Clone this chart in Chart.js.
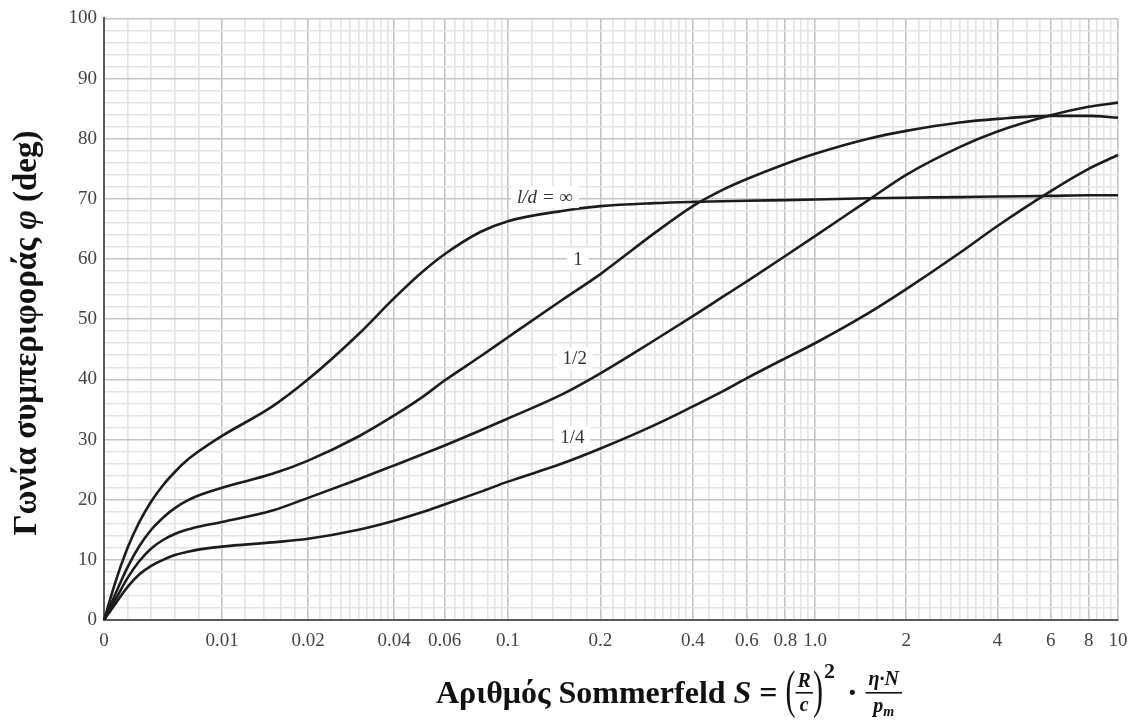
<!DOCTYPE html>
<html>
<head>
<meta charset="utf-8">
<script src="https://cdn.jsdelivr.net/npm/chart.js@4.4.1/dist/chart.umd.min.js"></script>
<style>
  html, body { margin: 0; padding: 0; background: #fff; }
  #wrap { width: 1141px; height: 726px; }
</style>
</head>
<body>
<div id="wrap"><canvas id="chart" width="1141" height="726"></canvas></div>
<script>
// Sommerfeld number S (shared x values for all curves)
const sValues = [0, 0.001, 0.002, 0.003, 0.004, 0.005, 0.006, 0.007, 0.008, 0.01, 0.015, 0.02, 0.03, 0.04, 0.05, 0.06, 0.08, 0.1, 0.15, 0.2, 0.3, 0.4, 0.5, 0.6, 0.8, 1, 1.5, 2, 3, 4, 6, 8, 10];

// Attitude angle phi (deg) for each l/d
const phiInfinite = [0, 6.5, 12, 16.3, 19.7, 22.4, 24.6, 26.5, 28, 30.6, 35.5, 40, 47.5, 53.5, 57.8, 60.8, 64.5, 66.3, 68, 68.8, 69.3, 69.5, 69.6, 69.7, 69.8, 69.9, 70.1, 70.2, 70.3, 70.4, 70.5, 70.6, 70.6];
const phiOne      = [0, 4.5, 8.8, 12.3, 15, 17, 18.6, 19.8, 20.7, 22, 24.3, 26.5, 30.5, 34, 37, 39.8, 43.8, 47, 53.2, 57.5, 64.3, 68.8, 71.5, 73.3, 75.8, 77.5, 80, 81.3, 82.7, 83.3, 83.8, 83.8, 83.5];
const phiHalf     = [0, 3.5, 7, 9.8, 11.9, 13.3, 14.3, 15, 15.5, 16.3, 18.2, 20.3, 23.4, 25.7, 27.5, 29, 31.5, 33.5, 37.5, 41, 46.5, 50.5, 53.7, 56.3, 60.5, 63.8, 69.8, 74, 78.6, 81.2, 83.9, 85.3, 86];
const phiQuarter  = [0, 2.8, 5.5, 7.6, 9, 10, 10.8, 11.3, 11.7, 12.2, 12.9, 13.5, 15, 16.5, 17.9, 19.2, 21.3, 23, 26, 28.5, 32.4, 35.5, 38, 40.2, 43.5, 46, 51, 55, 61, 65.5, 71.3, 75, 77.3];

// x axis ticks
const xMajorTicks = [0, 0.01, 0.02, 0.04, 0.06, 0.1, 0.2, 0.4, 0.6, 0.8, 1, 2, 4, 6, 8, 10];
const xTickLabels = ['0', '0.01', '0.02', '0.04', '0.06', '0.1', '0.2', '0.4', '0.6', '0.8', '1.0', '2', '4', '6', '8', '10'];
const xMinorStart = [0.002, 0.004, 0.006, 0.008];
const minorMantissas = [1.2, 1.4, 1.6, 1.8, 2.2, 2.4, 2.6, 2.8, 3, 3.2, 3.4, 3.6, 3.8, 4.5, 5, 5.5, 6.5, 7, 7.5, 8.5, 9, 9.5];
const decades = [0.01, 0.1, 1];

// y axis ticks
const yMax = 100;
const yMajorStep = 10;
const yMinorStep = 2;

// curve labels (placed at S, phi)
const curveLabels = [
  { text: 'l/d = ∞', s: 0.132, phi: 70.3, italic: true },
  { text: '1', s: 0.169, phi: 60 },
  { text: '1/2', s: 0.165, phi: 43.5 },
  { text: '1/4', s: 0.162, phi: 30.4 }
];

// build the full x grid list
const xMinorTicks = xMinorStart.slice();
decades.forEach(d => minorMantissas.forEach(m => xMinorTicks.push(+(d * m).toPrecision(6))));
const xGridValues = xMajorTicks.concat(xMinorTicks).sort((a, b) => a - b);

function isXMajor(v) {
  return xMajorTicks.some(t => Math.abs(t - v) < 1e-9);
}

// Sommerfeld axis: linear from 0 to 0.01, then log per decade
const sAnchors = [0, 0.01, 0.1, 1, 10];
const sAnchorFrac = [0, 0.1164, 0.3984, 0.7012, 1];

class SommerfeldScale extends Chart.LinearScale {
  determineDataLimits() {
    this.min = 0;
    this.max = 10;
  }
  buildTicks() {
    this.start = this.min;
    this.end = this.max;
    return xGridValues.map(v => ({ value: v }));
  }
  toDecimal(v) {
    if (v <= sAnchors[1]) return (v / sAnchors[1]) * sAnchorFrac[1];
    for (let i = 1; i < sAnchors.length - 1; i++) {
      if (v <= sAnchors[i + 1] || i === sAnchors.length - 2) {
        const t = Math.log10(v / sAnchors[i]) / Math.log10(sAnchors[i + 1] / sAnchors[i]);
        return sAnchorFrac[i] + t * (sAnchorFrac[i + 1] - sAnchorFrac[i]);
      }
    }
    return 1;
  }
  getPixelForValue(v) {
    return this.getPixelForDecimal(this.toDecimal(v));
  }
  getValueForPixel(p) {
    const d = this.getDecimalForPixel(p);
    if (d <= sAnchorFrac[1]) return d / sAnchorFrac[1] * sAnchors[1];
    for (let i = 1; i < sAnchors.length - 1; i++) {
      if (d <= sAnchorFrac[i + 1]) {
        const t = (d - sAnchorFrac[i]) / (sAnchorFrac[i + 1] - sAnchorFrac[i]);
        return sAnchors[i] * Math.pow(sAnchors[i + 1] / sAnchors[i], t);
      }
    }
    return 10;
  }
}
SommerfeldScale.id = 'sommerfeld';
SommerfeldScale.defaults = {};
Chart.register(SommerfeldScale);

const serif = '"Liberation Serif", "Times New Roman", serif';

function makeDataset(values) {
  return {
    data: sValues.map((s, i) => ({ x: s, y: values[i] })),
    borderColor: '#1c1c1c',
    borderWidth: 2.6,
    pointRadius: 0,
    fill: false,
    cubicInterpolationMode: 'monotone'
  };
}

// Draw curve labels and axis titles
const decorations = {
  id: 'decorations',
  afterDatasetsDraw(chart) {
    const ctx = chart.ctx;
    const xs = chart.scales.x;
    const ys = chart.scales.y;
    ctx.save();
    curveLabels.forEach(lb => {
      const px = xs.getPixelForValue(lb.s);
      const py = ys.getPixelForValue(lb.phi);
      ctx.font = (lb.italic ? 'italic ' : '') + '19px ' + serif;
      const w = ctx.measureText(lb.text).width;
      ctx.fillStyle = '#fff';
      ctx.fillRect(px - w / 2 - 6, py - 11, w + 12, 22);
      ctx.fillStyle = '#333';
      ctx.textAlign = 'center';
      ctx.textBaseline = 'middle';
      ctx.fillText(lb.text, px, py + 1);
    });
    ctx.restore();
  },
  afterDraw(chart) {
    const ctx = chart.ctx;
    ctx.save();
    ctx.fillStyle = '#111';
    ctx.strokeStyle = '#111';

    // y title (rotated)
    const yParts = [
      ['Γωνία συμπεριφοράς ', 'bold 33px ' + serif],
      ['φ', 'italic bold 33px ' + serif],
      [' (deg)', 'bold 33px ' + serif]
    ];
    let total = 0;
    yParts.forEach(p => { ctx.font = p[1]; total += ctx.measureText(p[0]).width; });
    ctx.translate(27, 333);
    ctx.rotate(-Math.PI / 2);
    ctx.textBaseline = 'middle';
    ctx.textAlign = 'left';
    let cx = -total / 2;
    yParts.forEach(p => { ctx.font = p[1]; ctx.fillText(p[0], cx, 0); cx += ctx.measureText(p[0]).width; });
    ctx.setTransform(1, 0, 0, 1, 0, 0);

    // x title with formula
    const base = 703;
    let x = 436;
    ctx.textBaseline = 'alphabetic';
    const put = (t, font, y) => {
      ctx.font = font;
      ctx.fillText(t, x, y === undefined ? base : y);
      const w = ctx.measureText(t).width;
      x += w;
      return w;
    };
    const big = 'bold 32px ' + serif;
    const bigIt = 'italic bold 32px ' + serif;
    const smallIt = 'italic bold 20px ' + serif;
    put('Αριθμός Sommerfeld ', big);
    put('S', bigIt);
    put(' = ', big);

    const paren = (ch) => {
      ctx.save();
      ctx.font = '30px ' + serif;
      const w = ctx.measureText(ch).width;
      ctx.translate(x, 693);
      ctx.scale(1, 1.75);
      ctx.textBaseline = 'middle';
      ctx.fillText(ch, 0, 0);
      ctx.restore();
      x += w;
    };
    paren('(');
    // R / c
    ctx.font = smallIt;
    const wR = ctx.measureText('R').width;
    const wc = ctx.measureText('c').width;
    const fw1 = Math.max(wR, wc) + 4;
    ctx.textAlign = 'center';
    ctx.fillText('R', x + fw1 / 2, 687);
    ctx.fillText('c', x + fw1 / 2, 711);
    ctx.fillRect(x, 692, fw1, 1.6);
    ctx.textAlign = 'left';
    x += fw1;
    paren(')');
    x += 1;
    put('2', 'bold 22px ' + serif, 678);
    x += 4;
    put(' · ', big);
    // eta N / p_m
    ctx.font = smallIt;
    const num = 'η·N';
    const wn = ctx.measureText(num).width;
    const wp = ctx.measureText('p').width;
    ctx.font = 'italic bold 14px ' + serif;
    const wm = ctx.measureText('m').width;
    const fw2 = Math.max(wn, wp + wm) + 6;
    ctx.font = smallIt;
    ctx.textAlign = 'center';
    ctx.fillText(num, x + fw2 / 2, 685);
    ctx.textAlign = 'left';
    const dx = x + (fw2 - wp - wm) / 2;
    ctx.fillText('p', dx, 712);
    ctx.font = 'italic bold 14px ' + serif;
    ctx.fillText('m', dx + wp, 716);
    ctx.fillRect(x, 692, fw2, 1.6);

    ctx.restore();
  }
};

const ctx = document.getElementById('chart').getContext('2d');
const chart = new Chart(ctx, {
  type: 'line',
  data: {
    datasets: [
      makeDataset(phiInfinite),
      makeDataset(phiOne),
      makeDataset(phiHalf),
      makeDataset(phiQuarter)
    ]
  },
  options: {
    responsive: false,
    animation: false,
    devicePixelRatio: 1,
    layout: { padding: { left: 0, top: 18, right: 23, bottom: 0 } },
    plugins: {
      legend: { display: false },
      tooltip: { enabled: false }
    },
    scales: {
      x: {
        type: 'sommerfeld',
        position: 'bottom',
        afterFit: (scale) => { scale.height = 106; },
        border: { display: true, color: '#5a5a5a', width: 2 },
        grid: {
          drawTicks: false,
          color: (c) => (c.tick && isXMajor(c.tick.value)) ? '#c4c4c4' : '#e4e4e4',
          lineWidth: 1.6
        },
        ticks: {
          autoSkip: false,
          maxRotation: 0,
          padding: 10,
          color: '#444',
          font: { family: serif, size: 19 },
          callback: (v) => {
            const i = xMajorTicks.findIndex(t => Math.abs(t - v) < 1e-9);
            return i >= 0 ? xTickLabels[i] : '';
          }
        }
      },
      y: {
        type: 'linear',
        min: 0,
        max: yMax,
        afterFit: (scale) => { scale.width = 104; },
        border: { display: true, color: '#5a5a5a', width: 2 },
        grid: {
          drawTicks: false,
          color: (c) => (c.tick && c.tick.value % yMajorStep === 0) ? '#c4c4c4' : '#e4e4e4',
          lineWidth: 1.6
        },
        ticks: {
          stepSize: yMinorStep,
          autoSkip: false,
          padding: 7,
          color: '#444',
          font: { family: serif, size: 19 },
          callback: (v) => (v % yMajorStep === 0 ? String(v) : '')
        }
      }
    }
  },
  plugins: [decorations]
});
</script>
</body>
</html>
